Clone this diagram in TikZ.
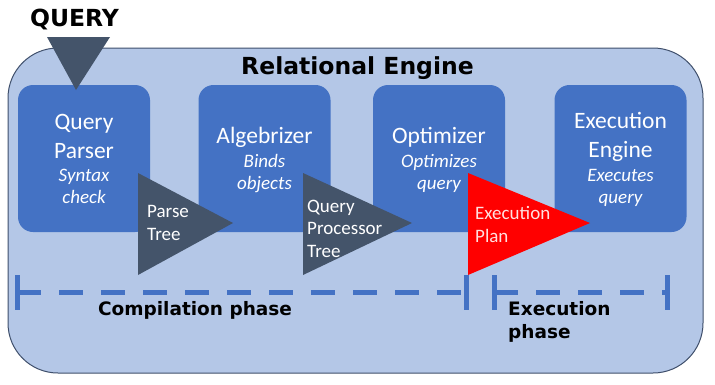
\documentclass[tikz,border=0pt]{standalone}
\usepackage{fontspec}
\newfontfamily\stagefont{Carlito}
\newfontfamily\headfont{DejaVu Sans}

\definecolor{enginefill}{HTML}{B4C7E7}
\definecolor{engineline}{HTML}{3F4F6B}
\definecolor{stageblue}{HTML}{4472C4}
\definecolor{treegray}{HTML}{44546A}
\definecolor{planred}{HTML}{FF0000}

\begin{document}
\begin{tikzpicture}[x=1pt,y=-1pt,
  enginebox/.style={draw=engineline, line width=1pt, fill=enginefill,
                    rounded corners=50pt, inner sep=0pt},
  stagebox/.style={fill=stageblue, rounded corners=15pt, inner sep=0pt,
                   minimum width=132pt, minimum height=147pt},
  stagename/.style={text=white, inner sep=0pt, align=center, anchor=base,
                    font=\stagefont\fontsize{23.5}{28.5}\selectfont},
  stagenote/.style={text=white, inner sep=0pt, align=center, anchor=base,
                    font=\stagefont\itshape\fontsize{19}{21.5}\selectfont},
  treelabel/.style={text=white, inner sep=0pt, align=left, anchor=base west,
                    font=\stagefont\fontsize{19}{22.5}\selectfont},
  heading/.style={inner sep=0pt, anchor=base,
                  font=\headfont\bfseries\fontsize{23.5}{28}\selectfont},
  phasename/.style={inner sep=0pt, align=left,
                    font=\headfont\bfseries\fontsize{18.5}{23}\selectfont},
  phaseline/.style={stageblue, line width=5pt}]
  \useasboundingbox (0,0) rectangle (715,384);

  % engine frame and the four stages
  \node[enginebox, minimum width=695pt, minimum height=325pt] (engine) at (355.5,210.5) {};
  \node[stagebox] (parser)     at (84,158.5)    {};
  \node[stagebox] (algebrizer) at (264.5,158.5) {};
  \node[stagebox] (optimizer)  at (439,158.5)   {};
  \node[stagebox] (executor)   at (620.5,158.5) {};

  % what goes in, and what each stage hands on
  \fill[treegray] (47,37) -- (110,37) -- (76,90) -- cycle;
  \fill[treegray] (138,173) -- (233,223) -- (138,275) -- cycle;
  \fill[treegray] (303,173) -- (412,223) -- (303,275) -- cycle;
  \fill[planred]  (468,173) -- (590,223) -- (468,275) -- cycle;

  \node[heading] (query)  at (74.5,26)  {QUERY};
  \node[heading] (title)  at (357.5,74) {Relational Engine};

  % multi-line nodes sit on the baseline of their last line
  \node[stagename] (parsername)     at (84,158)    {Query\\Parser};
  \node[stagenote] (parsernote)     at (84,203)    {Syntax\\check};
  \node[stagename] (algebrizername) at (264.5,143) {Algebrizer};
  \node[stagenote] (algebrizernote) at (264.5,189) {Binds\\objects};
  \node[stagename] (optimizername)  at (439,143)   {Optimizer};
  \node[stagenote] (optimizernote)  at (439,189)   {Optimizes\\query};
  \node[stagename] (executorname)   at (620.5,157) {Execution\\Engine};
  \node[stagenote] (executornote)   at (620.5,203) {Executes\\query};

  \node[treelabel] (parsetree) at (147,240) {Parse\\Tree};
  \node[treelabel] (qptree)    at (307,257) {Query\\Processor\\Tree};
  \node[treelabel, text=red!12!white] (plan) at (475,242) {Execution\\Plan};

  % phase rulers
  \coordinate (compstart) at (17,292);
  \coordinate (compend)   at (466,292);
  \coordinate (execstart) at (494,292);
  \coordinate (execend)   at (667,292);
  \draw[phaseline, dash pattern=on 24pt off 18pt] (compstart) -- (compend);
  \draw[phaseline, dash pattern=on 24pt off 18pt] (execstart) -- (execend);
  \foreach \c in {compstart,compend,execstart,execend}
    \draw[phaseline] (\c) ++(0,-17) -- ++(0,35);

  \node[phasename, anchor=base] (compphase) at (195,315) {Compilation phase};
  \node[phasename, anchor=base west] (execphase) at (508,338) {Execution\\phase};
\end{tikzpicture}
\end{document}
